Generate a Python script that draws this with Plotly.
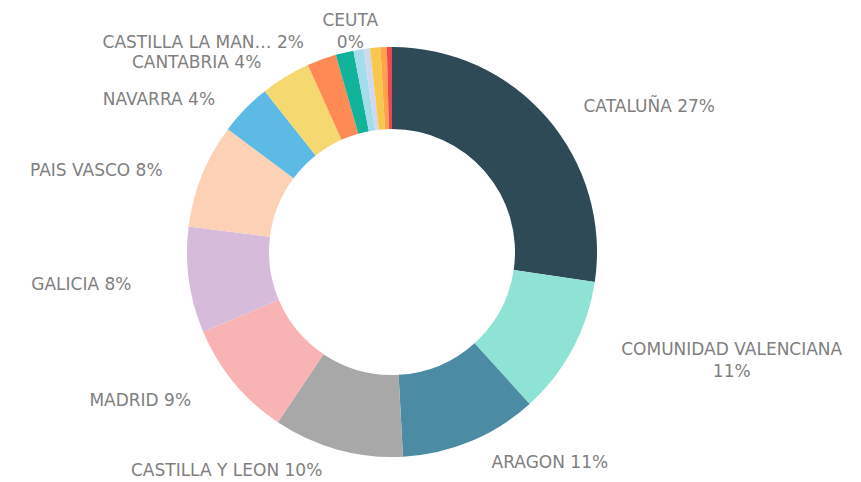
import math
import plotly.graph_objects as go

regions = ["CATALUÑA", "COMUNIDAD VALENCIANA", "ARAGON", "CASTILLA Y LEON", "MADRID",
           "GALICIA", "PAIS VASCO", "NAVARRA", "CANTABRIA", "CASTILLA LA MANCHA",
           "ASTURIAS", "ANDALUCIA", "LA RIOJA", "BALEARES", "MURCIA", "CEUTA"]
shares = [27.2, 10.9, 10.8, 10.2, 9.2, 8.3, 8.2, 4.1, 3.9, 2.3,
          1.4, 0.8, 0.5, 0.8, 0.5, 0.4]
display_names = ["CATALUÑA ", "COMUNIDAD VALENCIANA<br>", "ARAGON ", "CASTILLA Y LEON ", "MADRID ",
                 "GALICIA ", "PAIS VASCO ", "NAVARRA ", "CANTABRIA ", "CASTILLA LA MAN… ",
                 "", "", "", "", "", "CEUTA<br>"]
colors = ["#2E4A56", "#8FE3D5", "#4B8BA3", "#A8A8A8", "#F8B4B4",
          "#D6BCDA", "#FDD1B6", "#5CBAE4", "#F6D870", "#FF8A55",
          "#12B39B", "#A3DDEC", "#CFD8EF", "#F7C84B", "#FFA24C", "#F0474D"]

# style: distance (px) of each outside label ring from the donut centre
label_dist = [218, 220, 218, 216, 226, 230, 214, 212, 214, 214,
              0, 0, 0, 0, 0, 200]
STRETCH = 28                      # extra horizontal spread of labels (px)

W, H = 861, 482
CX, CY = 0.446, 0.4938            # donut centre in paper fractions

fig = go.Figure()

# visible donut
fig.add_trace(go.Pie(
    labels=regions, values=shares, sort=False, direction="clockwise", rotation=0,
    hole=0.6, marker=dict(colors=colors, line=dict(width=0)),
    textinfo="none", showlegend=False, hoverinfo="label+percent", automargin=False,
    domain=dict(x=[CX - 0.26, CX + 0.26], y=[CY - 205 / H, CY + 205 / H]),
))

# one invisible ring per outside label (same values -> same angles),
# sized so that the label sits at the wanted distance; avoids label scooting
total = sum(shares)
cum = 0.0
for i, name in enumerate(display_names):
    mid = (cum + shares[i] / 2) / total * 2 * math.pi
    cum += shares[i]
    if not name:
        continue
    r = label_dist[i]
    cx = CX + STRETCH * math.sin(mid) / W
    tpl = [""] * len(shares)
    tpl[i] = "%{text}%{percent:.0%}"
    fig.add_trace(go.Pie(
        labels=regions, values=shares, sort=False, direction="clockwise", rotation=0,
        hole=0.95,
        marker=dict(colors=["rgba(0,0,0,0)"] * len(shares), line=dict(width=0)),
        text=display_names, texttemplate=tpl, textposition="outside",
        outsidetextfont=dict(family="DejaVu Sans", size=17, color="#808080"),
        showlegend=False, hoverinfo="skip", automargin=False,
        domain=dict(x=[cx - 1.2 * r / W, cx + 1.2 * r / W],
                    y=[max(0.0, CY - r / H), min(1.0, CY + r / H)]),
    ))

fig.update_layout(
    width=W, height=H,
    margin=dict(l=0, r=0, t=0, b=0, autoexpand=False),
    paper_bgcolor="white", plot_bgcolor="white",
    showlegend=False,
)

fig.write_html("out.html")
